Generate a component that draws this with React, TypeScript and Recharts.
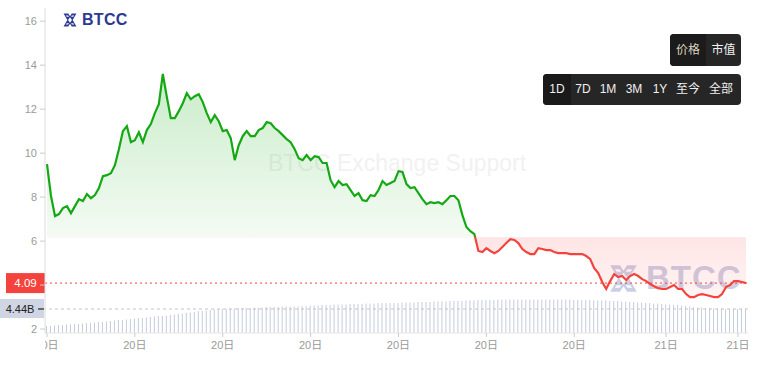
import React from 'react';
import { ComposedChart, Area, Bar, XAxis, YAxis, ReferenceLine } from 'recharts';

const prices = [
  9.5, 8.05, 7.14, 7.23, 7.5, 7.59, 7.27, 7.59, 7.91, 7.82,
  8.14, 7.95, 8.09, 8.41, 8.95, 9.0, 9.09, 9.45, 10.18, 11.0,
  11.23, 10.5, 10.59, 10.95, 10.5, 11.05, 11.32, 11.82, 12.23, 13.6,
  12.55, 11.59, 11.59, 11.91, 12.27, 12.73, 12.45, 12.59, 12.68, 12.32,
  11.82, 11.41, 11.73, 11.45, 11.0, 11.05, 10.68, 9.68, 10.36, 10.77,
  11.0, 10.77, 10.77, 11.05, 11.14, 11.41, 11.36, 11.14, 11.0, 10.82,
  10.64, 10.5, 10.18, 9.77, 9.68, 9.91, 9.68, 9.86, 9.82, 9.55,
  9.55, 8.77, 8.45, 8.73, 8.55, 8.59, 8.32, 8.05, 8.18, 7.86,
  7.82, 8.09, 8.05, 8.32, 8.73, 8.55, 8.64, 8.73, 9.18, 9.14,
  8.59, 8.41, 8.45, 8.18, 7.91, 7.68, 7.77, 7.73, 7.77, 7.68,
  7.86, 8.05, 8.05, 7.86, 7.18, 6.64, 6.45, 6.32, 5.55, 5.5,
  5.68, 5.55, 5.45, 5.55, 5.73, 5.91, 6.09, 6.05, 5.91, 5.64,
  5.5, 5.41, 5.41, 5.68, 5.64, 5.59, 5.59, 5.5, 5.45, 5.45,
  5.45, 5.41, 5.41, 5.41, 5.41, 5.32, 5.18, 4.77, 4.55, 4.14,
  3.82, 4.18, 4.5, 4.36, 4.41, 4.23, 4.41, 4.5, 4.41, 4.27,
  4.18, 4.05, 3.95, 3.86, 3.82, 3.82, 3.91, 4.0, 3.82, 3.82,
  3.59, 3.45, 3.45, 3.55, 3.59, 3.55, 3.5, 3.45, 3.45, 3.59,
  3.91, 4.0, 4.18, 4.18, 4.14, 4.09,
];

const volumes = [
  1.3, 1.3, 1.39, 1.48, 1.48, 1.57, 1.57, 1.67, 1.67, 1.76,
  1.85, 1.85, 1.94, 2.04, 2.04, 2.13, 2.22, 2.31, 2.41, 2.41,
  2.5, 2.59, 2.68, 2.78, 2.78, 2.87, 2.96, 3.05, 3.15, 3.15,
  3.24, 3.33, 3.42, 3.52, 3.61, 3.7, 3.79, 3.89, 4.07, 4.07,
  4.16, 4.26, 4.35, 4.44, 4.44, 4.44, 4.53, 4.53, 4.63, 4.63,
  4.63, 4.63, 4.72, 4.72, 4.72, 4.81, 4.81, 4.81, 4.81, 4.9,
  4.9, 4.9, 4.9, 4.9, 5.0, 5.0, 5.09, 5.09, 5.09, 5.18,
  5.18, 5.18, 5.27, 5.27, 5.27, 5.27, 5.37, 5.37, 5.37, 5.37,
  5.46, 5.46, 5.46, 5.55, 5.55, 5.55, 5.55, 5.55, 5.55, 5.64,
  5.64, 5.64, 5.64, 5.74, 5.74, 5.74, 5.74, 5.83, 5.83, 5.83,
  5.83, 5.92, 5.92, 5.92, 5.92, 6.01, 6.01, 6.01, 6.11, 6.11,
  6.11, 6.11, 6.11, 6.2, 6.2, 6.2, 6.2, 6.2, 6.2, 6.2,
  6.2, 6.2, 6.2, 6.2, 6.2, 6.2, 6.2, 6.2, 6.2, 6.2,
  6.2, 6.2, 6.11, 6.11, 6.11, 6.11, 6.11, 6.01, 6.01, 6.01,
  6.01, 5.92, 5.92, 5.92, 5.83, 5.83, 5.74, 5.74, 5.64, 5.64,
  5.55, 5.55, 5.46, 5.46, 5.37, 5.27, 5.27, 5.18, 5.18, 5.09,
  5.0, 4.9, 4.81, 4.72, 4.72, 4.63, 4.63, 4.53, 4.53, 4.53,
  4.44, 4.44, 4.44, 4.44, 4.44, 4.44,
];

const xTickIndex = [0, 22, 44, 66, 88, 110, 132, 155, 173];
const xTickText = ['20日', '20日', '20日', '20日', '20日', '20日', '20日', '21日', '21日'];
const yTicks = [2, 4, 6, 8, 10, 12, 14, 16];
const basePrice = 6.17;
const lastPrice = 4.09;
const lastVolume = 4.44;
const rangeButtons = ['1D', '7D', '1M', '3M', '1Y', '至今', '全部'];
const rangeWidths = [28, 24, 26, 26, 26, 30, 36];
const modeButtons = ['价格', '市值'];

const data = prices.map((p, i) => ({ idx: i, price: p, volume: volumes[i] }));

const maxP = Math.max(...prices);
const minP = Math.min(...prices);
const splitOffset = (maxP - basePrice) / (maxP - minP);

const GREEN = '#14a814';
const RED = '#f4433d';
const FONT = "'Liberation Sans', 'Noto Sans CJK SC', sans-serif";
const PLOT_LEFT = 45;

const PriceTag = (props: any) => {
  const vb = props.viewBox || {};
  const x = vb.x ?? 0;
  const y = vb.y ?? 0;
  return (
    <g>
      <rect x={x - 39} y={y - 10} width={39} height={20} fill={RED} />
      <text x={x - 19.5} y={y} dy="0.36em" textAnchor="middle" fill="#fff" fontSize={11.5} fontFamily={FONT}>
        {lastPrice.toFixed(2)}
      </text>
    </g>
  );
};

const VolTag = (props: any) => {
  const vb = props.viewBox || {};
  const x = vb.x ?? 0;
  const y = vb.y ?? 0;
  return (
    <g>
      <rect x={x - 45} y={y - 10} width={44} height={19} fill="#cfd5e2" />
      <line x1={x - 7} x2={x - 1} y1={y} y2={y} stroke="#222" strokeWidth={1.2} />
      <text x={x - 25} y={y} dy="0.36em" textAnchor="middle" fill="#222" fontSize={11} fontFamily={FONT}>
        {lastVolume.toFixed(2) + 'B'}
      </text>
    </g>
  );
};

const YTick = (props: any) => {
  const { x, y, payload } = props;
  // the price tag sits on top of this label in the reference
  if (Math.abs(payload.value - lastPrice) < 0.45) return <g />;
  return (
    <text x={x} y={y} dy="0.36em" textAnchor="end" fill="#9a9a9a" fontSize={11} fontFamily={FONT}>
      {payload.value}
    </text>
  );
};

const XTick = (props: any) => {
  const { x, y, payload, index } = props;
  const i = xTickIndex.indexOf(payload.value);
  const label = i >= 0 ? xTickText[i] : '';
  return (
    <text
      x={x}
      y={y}
      dy="0.71em"
      textAnchor="middle"
      fill="#9a9a9a"
      fontSize={11}
      fontFamily={FONT}
      clipPath={index === 0 ? 'url(#firstTickClip)' : undefined}
    >
      {label}
    </text>
  );
};

const LogoIcon = ({ size, color }: { size: number; color: string }) => (
  <svg width={size} height={size} viewBox="0 0 12 12" style={{ display: 'block' }}>
    <path d="M0.5 0.5 L4.5 0.5 L6 2.8 L7.5 0.5 L11.5 0.5 L8.3 6 L11.5 11.5 L7.5 11.5 L6 9.2 L4.5 11.5 L0.5 11.5 L3.7 6 Z" fill={color} />
    <path d="M4.3 6 L6 3.6 L7.7 6 L6 8.4 Z" fill="#fff" />
    <path d="M2.4 2.2 L4.4 2.2 L5.1 3.2 L3.2 3.2 Z M9.6 2.2 L7.6 2.2 L6.9 3.2 L8.8 3.2 Z M2.4 9.8 L4.4 9.8 L5.1 8.8 L3.2 8.8 Z M9.6 9.8 L7.6 9.8 L6.9 8.8 L8.8 8.8 Z" fill="#fff" />
  </svg>
);

export default function App() {
  return (
    <div style={{ position: 'absolute', left: 0, top: 0, width: 761, height: 365, background: '#fff', fontFamily: FONT, overflow: 'hidden' }}>
      {/* watermarks behind chart */}
      <div style={{ position: 'absolute', left: 262, top: 150, width: 270, textAlign: 'center', fontSize: 23, color: 'rgba(228,228,228,0.5)', whiteSpace: 'nowrap' }}>
        BTCC Exchange Support
      </div>
      <div style={{ position: 'absolute', left: 609, top: 263, display: 'flex', alignItems: 'center', opacity: 0.26 }}>
        <LogoIcon size={29} color="#3a4a9c" />
        <span style={{ marginLeft: 8, fontSize: 33, fontWeight: 700, color: '#3a4a9c', letterSpacing: 1, lineHeight: '30px' }}>BTCC</span>
      </div>

      <div style={{ position: 'absolute', left: 0, top: 0 }}>
        <ComposedChart width={761} height={365} data={data} margin={{ top: 8, right: 13, left: 0, bottom: 0 }} barCategoryGap={0}>
          <defs>
            <linearGradient id="lineGrad" x1="0" y1="0" x2="0" y2="1">
              <stop offset={0} stopColor={GREEN} />
              <stop offset={splitOffset} stopColor={GREEN} />
              <stop offset={splitOffset} stopColor={RED} />
              <stop offset={1} stopColor={RED} />
            </linearGradient>
            <linearGradient id="fillGrad" x1="0" y1="0" x2="0" y2="1">
              <stop offset={0} stopColor="#22b022" stopOpacity={0.24} />
              <stop offset={splitOffset} stopColor="#22b022" stopOpacity={0.05} />
              <stop offset={splitOffset} stopColor="#f44" stopOpacity={0.14} />
              <stop offset={1} stopColor="#f44" stopOpacity={0.06} />
            </linearGradient>
            <clipPath id="firstTickClip">
              <rect x={PLOT_LEFT} y={330} width={200} height={40} />
            </clipPath>
          </defs>
          <XAxis
            dataKey="idx"
            type="category"
            ticks={xTickIndex}
            interval={0}
            height={32}
            tick={<XTick />}
            tickSize={4}
            tickMargin={4}
            axisLine={{ stroke: '#e6e6e6' }}
            tickLine={{ stroke: '#cccccc' }}
          />
          <YAxis
            yAxisId="p"
            domain={[1.82, 16.6]}
            ticks={yTicks}
            allowDataOverflow
            width={45}
            tickSize={5}
            tickMargin={3}
            tick={<YTick />}
            axisLine={{ stroke: '#dcdcdc' }}
            tickLine={{ stroke: '#cccccc' }}
          />
          <YAxis yAxisId="v" orientation="right" hide domain={[0, 60.1]} />
          <Bar yAxisId="v" dataKey="volume" fill="#c4cbdc" barSize={1} isAnimationActive={false} />
          <Area
            yAxisId="p"
            type="linear"
            dataKey="price"
            baseValue={basePrice}
            stroke="url(#lineGrad)"
            strokeWidth={2.2}
            fill="url(#fillGrad)"
            fillOpacity={1}
            dot={false}
            activeDot={false}
            isAnimationActive={false}
          />
          <ReferenceLine yAxisId="v" y={lastVolume} stroke="#c4c4c4" strokeDasharray="3 3" label={<VolTag />} />
          <ReferenceLine yAxisId="p" y={lastPrice} stroke={RED} strokeDasharray="2 3" label={<PriceTag />} />
        </ComposedChart>
      </div>

      {/* top-left logo */}
      <div style={{ position: 'absolute', left: 63, top: 12, display: 'flex', alignItems: 'center' }}>
        <LogoIcon size={14} color="#2b3a92" />
        <span style={{ marginLeft: 5, fontSize: 16, fontWeight: 700, color: '#2b3a92', letterSpacing: 0.3, lineHeight: '16px' }}>BTCC</span>
      </div>

      {/* mode buttons */}
      <div style={{ position: 'absolute', left: 670, top: 34, height: 32, background: '#262626', borderRadius: 4, display: 'flex', overflow: 'hidden' }}>
        {modeButtons.map((b, i) => (
          <div key={b} style={{ width: i === 0 ? 36 : 35, height: 32, lineHeight: '32px', textAlign: 'center', fontSize: 12, color: i === 0 ? '#d8d2bf' : '#f2f2f2', background: i === 0 ? '#1b1b1b' : 'transparent' }}>
            {b}
          </div>
        ))}
      </div>

      {/* range buttons */}
      <div style={{ position: 'absolute', left: 543, top: 74, height: 31, width: 198, background: '#262626', borderRadius: 4, display: 'flex', overflow: 'hidden' }}>
        {rangeButtons.map((b, i) => (
          <div key={b} style={{ width: rangeWidths[i], height: 31, lineHeight: '31px', textAlign: 'center', fontSize: 12, color: '#f0f0f0', background: i === 0 ? '#1a1a1a' : 'transparent' }}>
            {b}
          </div>
        ))}
      </div>
    </div>
  );
}
